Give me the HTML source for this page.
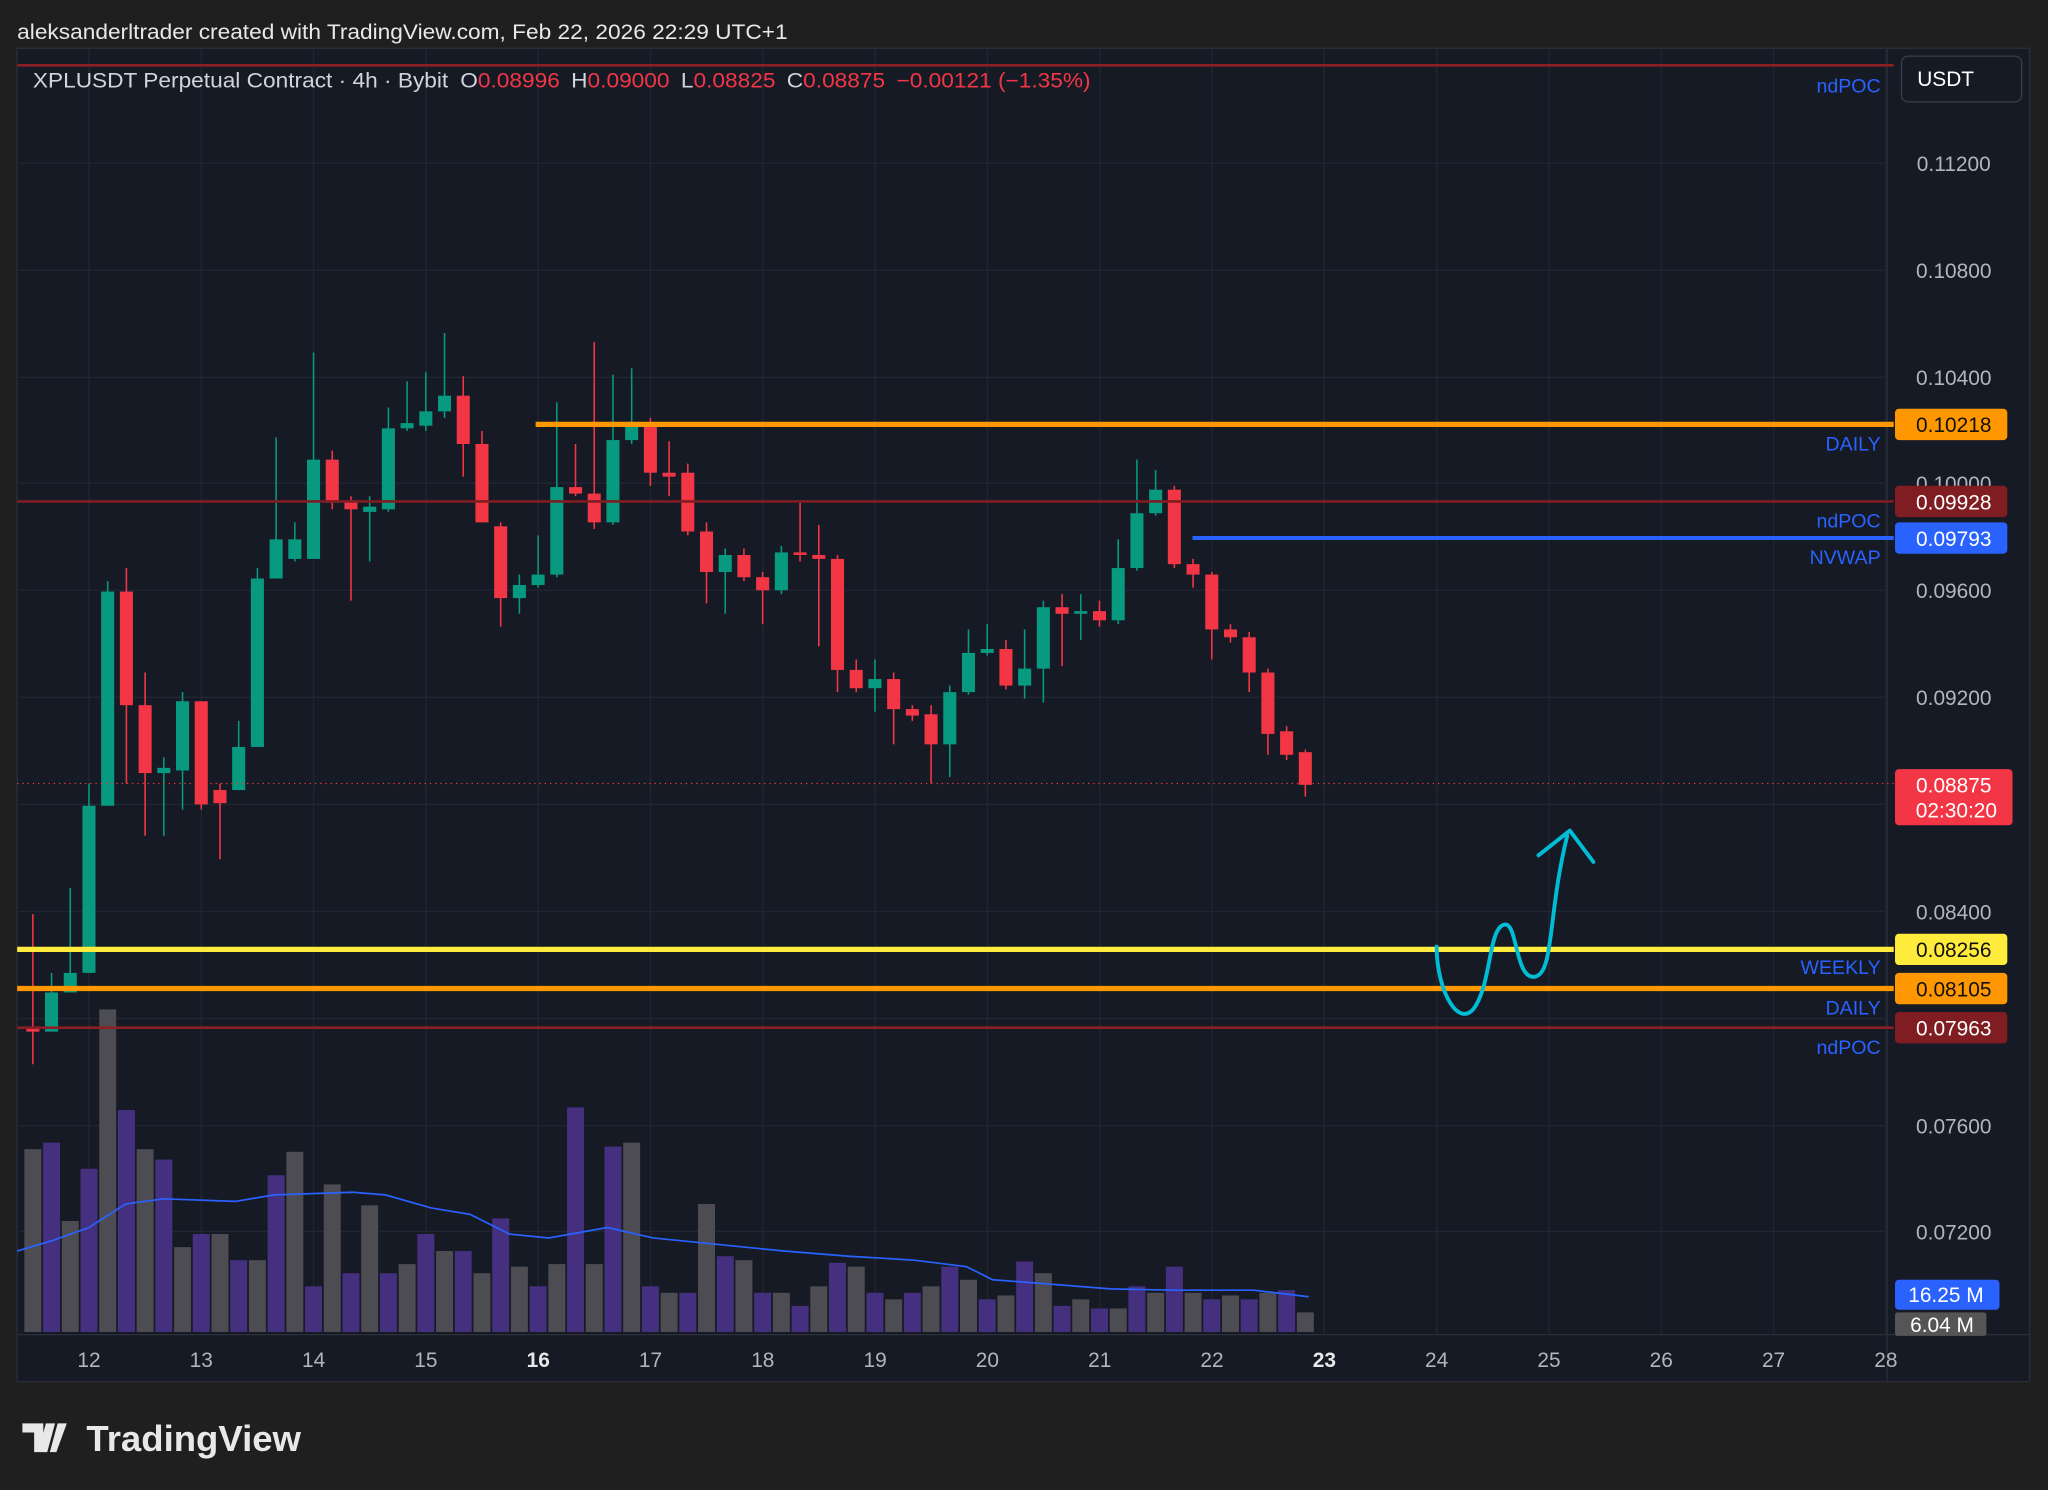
<!DOCTYPE html>
<html><head><meta charset="utf-8"><style>
html,body{margin:0;padding:0;background:#1f1f1f;}
svg{display:block;font-family:"Liberation Sans",sans-serif;}
</style></head><body>
<svg id="s" width="2048" height="1490" viewBox="0 0 1568 1141" xmlns="http://www.w3.org/2000/svg">
<rect x="0" y="0" width="1568" height="1141" fill="#1f1f1f"/>
<text x="13" y="30" fill="#e8e8e8" font-size="16.5" textLength="590" lengthAdjust="spacingAndGlyphs">aleksanderltrader created with TradingView.com, Feb 22, 2026 22:29 UTC+1</text>
<rect x="13" y="37" width="1541" height="1021" fill="#161a25" stroke="#2a2e39" stroke-width="1"/>
<line x1="1445" y1="37" x2="1445" y2="1058" stroke="#2a2e39"/>
<line x1="13" y1="1022" x2="1554" y2="1022" stroke="#2a2e39"/>
<g id="grid" stroke="#222633" stroke-width="1"></g>
<g id="vol"></g>
<polyline fill="none" stroke="#2962ff" stroke-width="1.3" points="13,958 40,950 68,940 96,922 125,918 180,920 210,915 270,913 295,915 330,925 360,930 390,945 420,948 465,940 500,948 540,952 600,958 650,962 700,965 740,970 760,980 800,983 850,987 900,988 960,988 1002,993"/>
<g id="candles"></g>
<line x1="13" y1="50" x2="1450" y2="50" stroke="#8b1f24" stroke-width="2"/>
<line x1="410" y1="325" x2="1450" y2="325" stroke="#ff9800" stroke-width="4"/>
<line x1="13" y1="384" x2="1450" y2="384" stroke="#7f1d22" stroke-width="2"/>
<line x1="913" y1="412" x2="1450" y2="412" stroke="#2962ff" stroke-width="3"/>
<line x1="13" y1="600" x2="1450" y2="600" stroke="#f23645" stroke-width="1" stroke-dasharray="1,3"/>
<line x1="13" y1="727" x2="1450" y2="727" stroke="#ffeb3b" stroke-width="4"/>
<line x1="13" y1="757" x2="1450" y2="757" stroke="#ff9800" stroke-width="4"/>
<line x1="13" y1="787" x2="1450" y2="787" stroke="#8b1f24" stroke-width="2"/>
<g fill="#2962ff" font-size="15" text-anchor="end">
<text x="1440" y="71">ndPOC</text>
<text x="1440" y="345">DAILY</text>
<text x="1440" y="404">ndPOC</text>
<text x="1440" y="432">NVWAP</text>
<text x="1440" y="746">WEEKLY</text>
<text x="1440" y="777">DAILY</text>
<text x="1440" y="807">ndPOC</text>
</g>
<path d="M1100,725 C1100,760 1118,790 1130,770 C1142,750 1140,710 1152,708 C1162,706 1160,750 1175,748 C1190,746 1185,700 1200,640" fill="none" stroke="#00bcd4" stroke-width="3" stroke-linecap="round"/>
<path d="M1178,655 L1202,636 L1220,660" fill="none" stroke="#00bcd4" stroke-width="3" stroke-linecap="round" stroke-linejoin="round"/>
<g fill="#b2b5be" font-size="16" text-anchor="middle">
<text x="1496" y="131">0.11200</text>
<text x="1496" y="213">0.10800</text>
<text x="1496" y="295">0.10400</text>
<text x="1496" y="376">0.10000</text>
<text x="1496" y="458">0.09600</text>
<text x="1496" y="540">0.09200</text>
<text x="1496" y="704">0.08400</text>
<text x="1496" y="868">0.07600</text>
<text x="1496" y="949">0.07200</text>
</g>
<g font-size="16" text-anchor="middle">
<rect x="1451" y="313" width="86" height="24" rx="3" fill="#ff9800"/><text x="1496" y="331" fill="#111">0.10218</text>
<rect x="1451" y="372" width="86" height="24" rx="3" fill="#7f1d22"/><text x="1496" y="390" fill="#fff">0.09928</text>
<rect x="1451" y="400" width="86" height="24" rx="3" fill="#2962ff"/><text x="1496" y="418" fill="#fff">0.09793</text>
<rect x="1451" y="589" width="90" height="43" rx="3" fill="#f23645"/><text x="1496" y="607" fill="#fff">0.08875</text><text x="1498" y="626" fill="#fff">02:30:20</text>
<rect x="1451" y="715" width="86" height="24" rx="3" fill="#ffeb3b"/><text x="1496" y="733" fill="#111">0.08256</text>
<rect x="1451" y="745" width="86" height="24" rx="3" fill="#ff9800"/><text x="1496" y="763" fill="#111">0.08105</text>
<rect x="1451" y="775" width="86" height="24" rx="3" fill="#7f1d22"/><text x="1496" y="793" fill="#fff">0.07963</text>
<rect x="1451" y="980" width="80" height="23" rx="3" fill="#2962ff"/><text x="1490" y="997" fill="#fff">16.25 M</text>
<rect x="1451" y="1005" width="70" height="18" rx="2" fill="#555"/><text x="1487" y="1020" fill="#fff">6.04 M</text>
</g>
<rect x="1456" y="43" width="92" height="35" rx="5" fill="#161a25" stroke="#3a3e49"/>
<text x="1468" y="66" fill="#fff" font-size="16">USDT</text>
<text x="25" y="67" font-size="16" fill="#d1d4dc" textLength="810" lengthAdjust="spacingAndGlyphs">XPLUSDT Perpetual Contract · 4h · Bybit <tspan dx="4">O</tspan><tspan fill="#f23645">0.08996</tspan><tspan dx="8">H</tspan><tspan fill="#f23645">0.09000</tspan><tspan dx="8">L</tspan><tspan fill="#f23645">0.08825</tspan><tspan dx="8">C</tspan><tspan fill="#f23645">0.08875</tspan><tspan dx="8" fill="#f23645">−0.00121 (−1.35%)</tspan></text>
<g id="dates" fill="#b2b5be" font-size="16" text-anchor="middle"></g>
<g fill="#e8e8e8">
<path d="M17,1090 h16 v22 h-7 v-15 h-9z M35,1090 h7 l-6,22 h-7z M44,1090 h7 l-8,22 h-5 z" fill="#e8e8e8"/>
<text x="66" y="1111" font-size="28" font-weight="bold">TradingView</text>
</g>
</svg>
<script>
var NS="http://www.w3.org/2000/svg";
function el(p,t,a){var e=document.createElementNS(NS,t);for(var k in a)e.setAttribute(k,a[k]);p.appendChild(e);return e;}
var g=document.getElementById('grid');
[125,207,289,370,452,534,616,698,780,862,943].forEach(function(y){el(g,'line',{x1:13,y1:y,x2:1445,y2:y});});
var dg=document.getElementById('dates');
for(var d=12;d<=28;d++){var x=68+(d-12)*86;el(g,'line',{x1:x,y1:37,x2:x,y2:1022});
var t=el(dg,'text',{x:x,y:1047});t.textContent=d;if(d==16||d==23){t.setAttribute('font-weight','bold');t.setAttribute('fill','#e8e8e8');}}
var C=[[788,790,700,815],[790,760,745,790],[760,745,680,760],[745,617,600,745],[617,453,445,617],[453,540,435,600],[540,592,515,640],[592,588,580,640],[590,537,530,620],[537,616,537,620],[605,615,600,658],[605,572,552,605],[572,443,435,572],[443,413,335,443],[428,413,400,430],[428,352,270,428],[352,385,345,390],[383,390,380,460],[392,388,380,430],[390,328,312,392],[328,324,292,330],[326,315,285,330],[315,303,255,320],[303,340,288,365],[340,400,330,400],[403,458,400,480],[458,448,440,470],[448,440,410,450],[440,373,308,442],[373,378,340,380],[378,400,262,405],[400,337,287,402],[337,325,282,340],[325,362,320,372],[362,365,338,380],[362,407,355,410],[407,438,400,462],[438,425,420,470],[425,442,420,445],[442,452,438,478],[452,423,418,455],[423,425,385,430],[425,428,402,495],[428,513,425,530],[513,527,505,530],[527,520,505,545],[520,543,515,570],[543,548,540,552],[547,570,540,600],[570,530,525,595],[530,500,482,532],[500,497,478,502],[497,525,490,528],[525,512,482,535],[512,465,460,538],[465,470,455,510],[470,468,455,490],[468,475,460,480],[475,435,413,478],[435,393,352,437],[393,375,360,395],[375,432,372,435],[432,440,428,450],[440,482,438,505],[482,488,478,492],[488,515,484,530],[515,562,512,578],[560,578,556,582],[576,601,574,610]];
var V=[880,875,935,895,773,850,880,888,955,945,945,965,965,900,882,985,907,975,923,975,968,945,958,958,975,933,970,985,968,848,968,878,875,985,990,990,922,962,965,990,990,1000,985,967,970,990,995,990,985,970,980,995,992,966,975,1000,995,1002,1002,985,990,970,990,995,992,995,990,988,1005,1008];
var cg=document.getElementById('candles'),vg=document.getElementById('vol');
C.forEach(function(c,i){var x=25+i*14.33;var up=c[1]<c[0];var col=up?'#089981':'#f23645';
el(cg,'line',{x1:x,y1:c[2],x2:x,y2:c[3],stroke:col,'stroke-width':1.2});
var top=Math.min(c[0],c[1]),h=Math.max(Math.abs(c[0]-c[1]),1.5);
el(cg,'rect',{x:x-5,y:top,width:10,height:h,fill:col});
var vy=V[i]||1000;el(vg,'rect',{x:x-6.5,y:vy,width:13,height:1020-vy,fill:(i%2==0?'#4c4c52':'#45307f')});
});
</script>
</body></html>
